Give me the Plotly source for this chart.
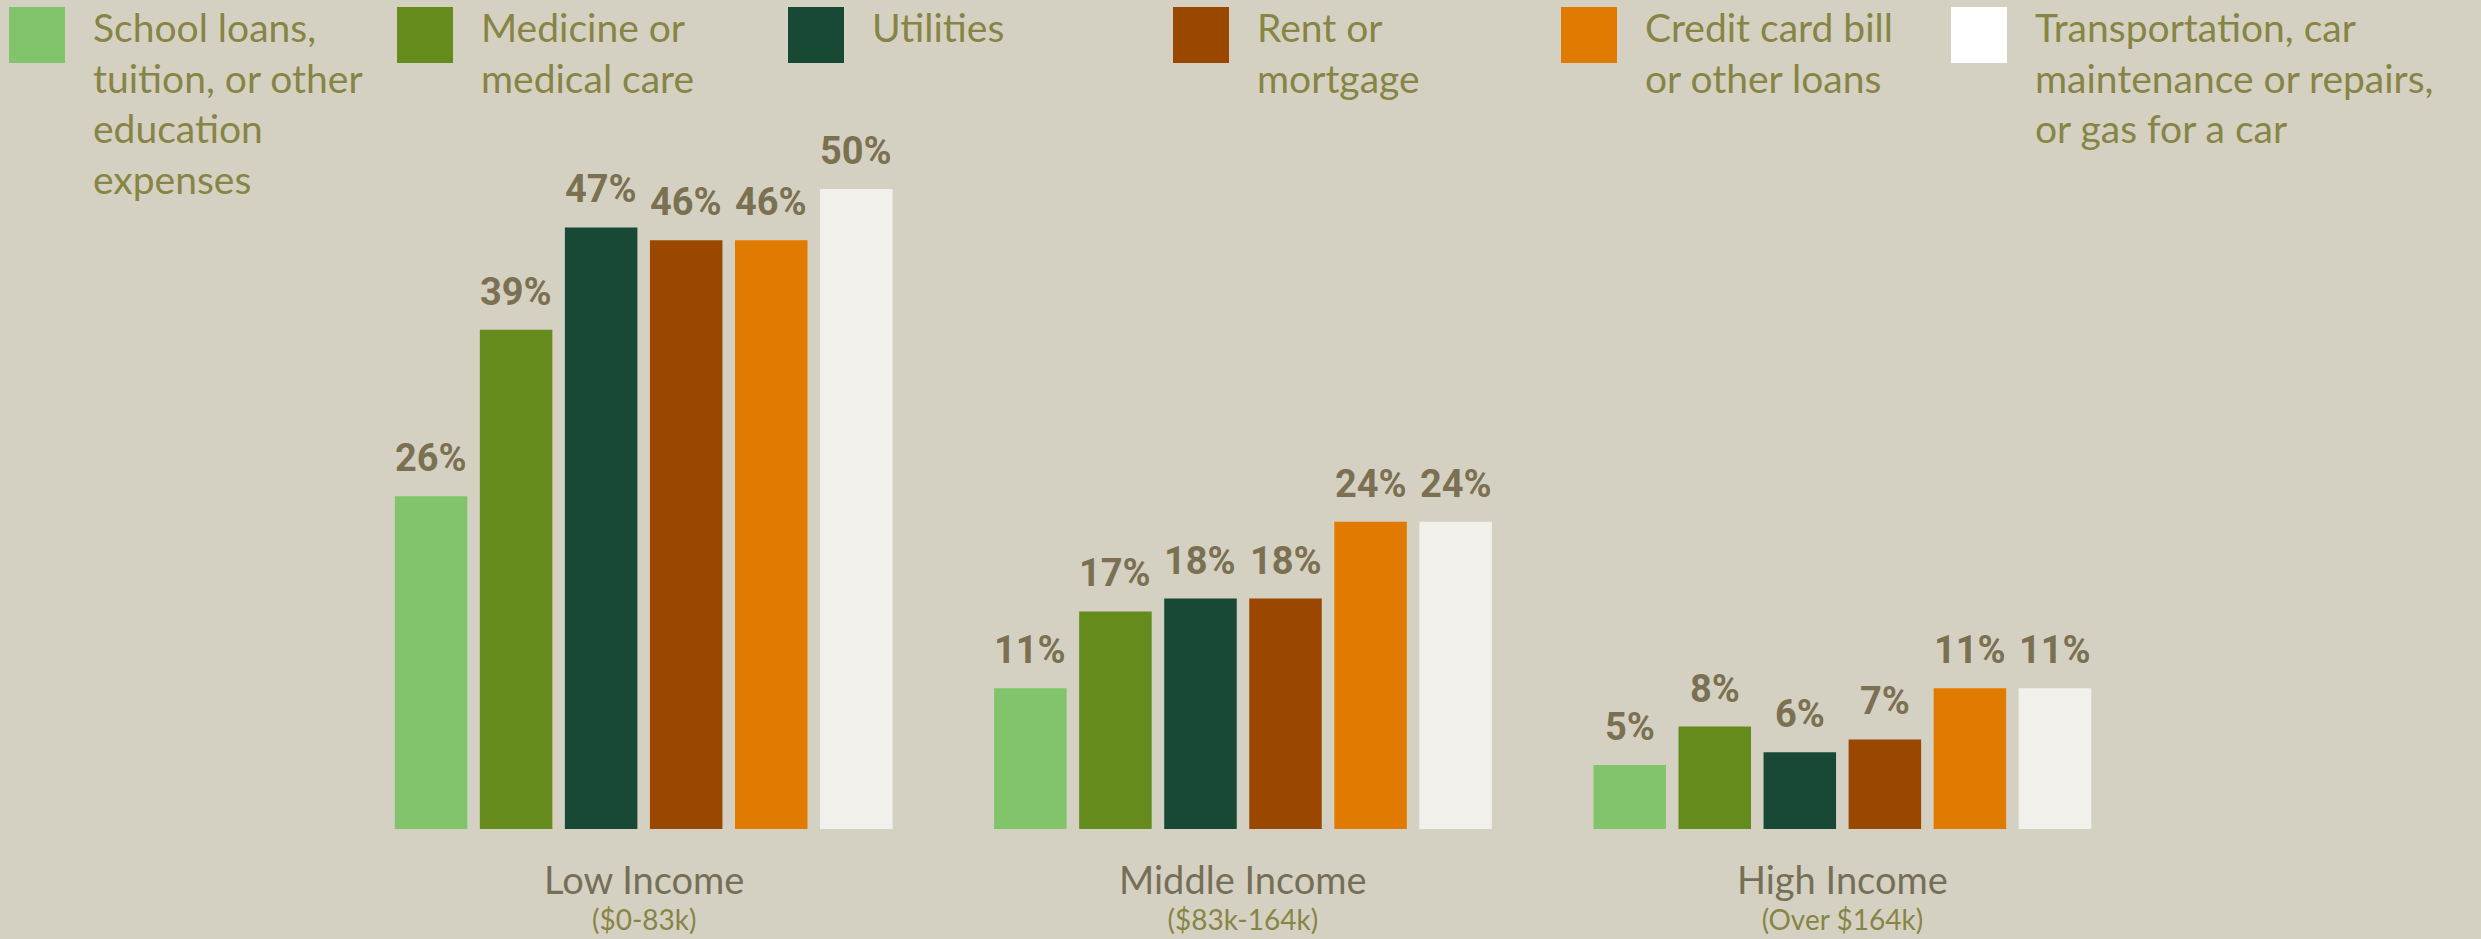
import plotly.graph_objects as go

# Income groups and their sub-labels
groups = ["Low Income", "Middle Income", "High Income"]
group_ranges = ["($0-83k)", "($83k-164k)", "(Over $164k)"]

# Expense categories (legend text, wrapped) and colours
categories = [
    "School loans,<br>tuition, or other<br>education<br>expenses",
    "Medicine or<br>medical care",
    "Utilities",
    "Rent or<br>mortgage",
    "Credit card bill<br>or other loans",
    "Transportation, car<br>maintenance or repairs,<br>or gas for a car",
]
bar_colors = ["#82c46b", "#658b1d", "#174935", "#9a4700", "#e07a00", "#f2f0eb"]
legend_colors = ["#82c46b", "#658b1d", "#174935", "#9a4700", "#e07a00", "#ffffff"]

# Share (%) per category, one value per income group
school = [26, 11, 5]
medicine = [39, 17, 8]
utilities = [47, 18, 6]
rent = [46, 18, 7]
credit = [46, 24, 11]
transport = [50, 24, 11]
series = [school, medicine, utilities, rent, credit, transport]

BG = "#d5d1c2"
VALUE_COLOR = "#7b7152"
TITLE_COLOR = "#766f58"
OLIVE = "#878545"

W, H = 2481, 939
ML, MR, MT, MB = 344, 339, 125, 110
PW = W - ML - MR
PH = H - MT - MB

PITCH = 0.1419
BAR_W = 0.121

def px_x(px):
    return (px - ML) / PW

def px_y(py):
    return 1 - (py - MT) / PH

fig = go.Figure()
xs = list(range(len(groups)))
n = len(series)
for j, vals in enumerate(series):
    center_off = (j - (n - 1) / 2) * PITCH
    fig.add_trace(go.Bar(
        x=xs, y=vals,
        offset=center_off - BAR_W / 2, width=BAR_W,
        marker=dict(color=bar_colors[j], line=dict(width=0)),
        showlegend=False, hoverinfo="skip",
    ))

annotations = []
# value labels above bars
for j, vals in enumerate(series):
    center_off = (j - (n - 1) / 2) * PITCH
    for i, v in enumerate(vals):
        annotations.append(dict(
            x=i + center_off, y=v, xref="x", yref="y",
            text=f"{v}%", showarrow=False,
            xanchor="center", yanchor="bottom", yshift=14,
            font=dict(family="Roboto", size=38, color=VALUE_COLOR, weight="bold"),
        ))

# group titles (with income range on a second line) beneath the bars
for i, (g, r) in enumerate(zip(groups, group_ranges)):
    annotations.append(dict(
        x=i, y=0, xref="x", yref="y",
        text=f"<span style='font-size:38px;color:{TITLE_COLOR}'>{g}</span><br>{r}",
        showarrow=False, xanchor="center", yanchor="top", yshift=-25,
        font=dict(family="Lato", size=28, color=OLIVE),
    ))

# custom legend across the top
legend_left = [9, 397, 788, 1173, 1561, 1951]
SQ = 56
shapes = []
for k, lab in enumerate(categories):
    x0 = legend_left[k]
    shapes.append(dict(
        type="rect", xref="paper", yref="paper",
        x0=px_x(x0), x1=px_x(x0 + SQ), y0=px_y(7 + SQ), y1=px_y(7),
        fillcolor=legend_colors[k], line=dict(width=0),
    ))
    annotations.append(dict(
        x=px_x(x0 + 82), y=px_y(2), xref="paper", yref="paper",
        text=lab, showarrow=False, xanchor="left", yanchor="top", align="left",
        font=dict(family="Lato", size=39, color=OLIVE),
    ))

fig.update_layout(
    width=W, height=H,
    margin=dict(l=ML, r=MR, t=MT, b=MB, pad=0),
    paper_bgcolor=BG, plot_bgcolor=BG,
    barmode="overlay",
    xaxis=dict(range=[-0.5, 2.5], showgrid=False, zeroline=False,
               showticklabels=False, showline=False, fixedrange=True),
    yaxis=dict(range=[0, 55], showgrid=False, zeroline=False,
               showticklabels=False, showline=False, fixedrange=True),
    annotations=annotations,
    shapes=shapes,
    showlegend=False,
)

fig.write_html("out.html", config={"displayModeBar": False})
